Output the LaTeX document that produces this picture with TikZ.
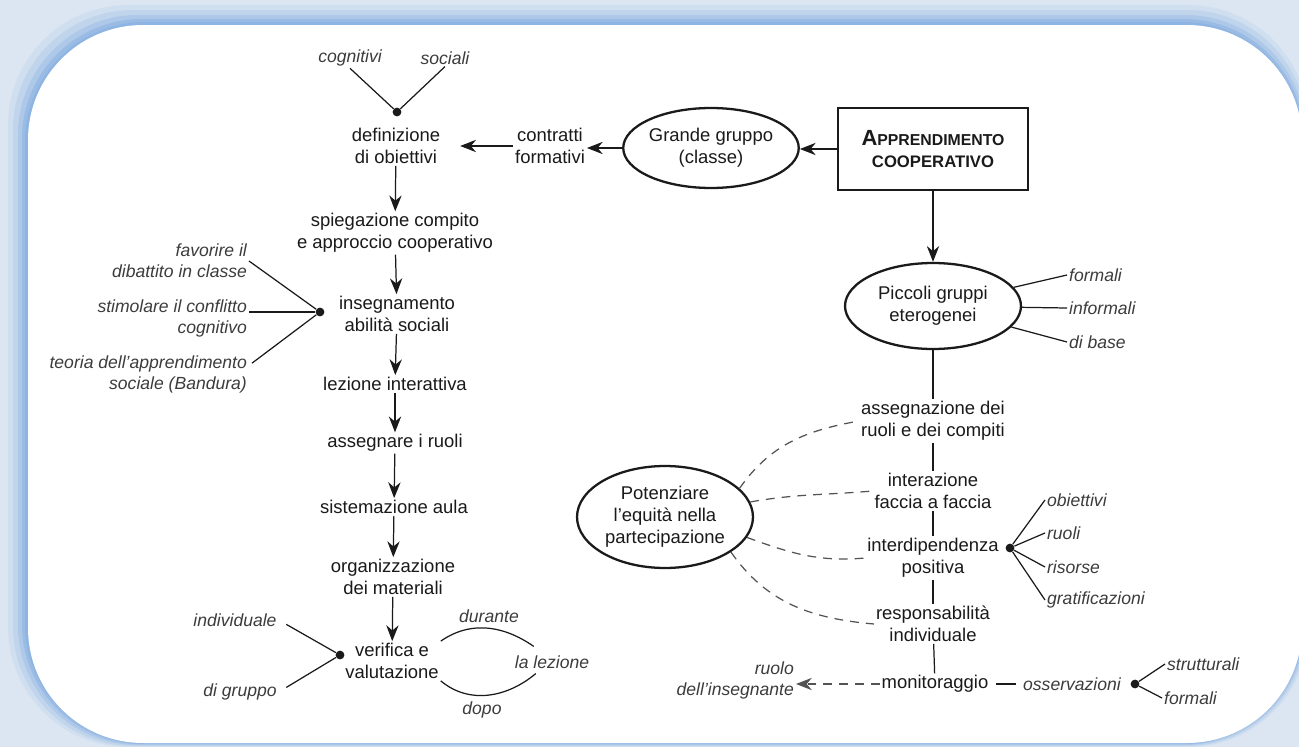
\documentclass[tikz,border=0pt]{standalone}
\usepackage{fontspec}
\setmainfont{Liberation Sans}
\usetikzlibrary{arrows.meta,shapes.geometric,calc}
\definecolor{pagebg}{HTML}{DCE6F2}
\definecolor{glow}{HTML}{8DB4E2}
\definecolor{ink}{HTML}{1A1A1A}

\begin{document}
\begin{tikzpicture}[x=0.02cm,y=-0.02cm,
            every node/.style={text=ink,inner sep=1pt},
            txt/.style={align=center,font=\fontsize{10.5}{12.5}\selectfont},
            lbl/.style={font=\fontsize{10}{12}\selectfont\itshape,text=ink!85},
            oval/.style={ellipse,draw=ink,line width=1.3pt,align=center,inner sep=0pt,font=\fontsize{10.5}{12.5}\selectfont},
            flow/.style={-{Stealth[length=9pt,width=7pt]},ink,line width=0.7pt},
            link/.style={ink,line width=0.7pt},
            hint/.style={ink!75,line width=0.7pt,dash pattern=on 5pt off 4pt},
            dot/.style={circle,fill=ink,inner sep=0pt,minimum size=5pt}]
            \useasboundingbox (0,0) rectangle (1299,747);
            % sfondo
            \fill[pagebg] (0,0) rectangle (1299,747);
            \foreach \w/\p in {20/15,15/35,10/60,6/85,3/100}
              \fill[glow!\p!pagebg,rounded corners=2.4cm] (28-\w,25-\w) rectangle (1302+\w/3,743+\w/5);
            \fill[white,rounded corners=2.3cm] (28,25) rectangle (1302,743);

            % colonna sinistra
            \node[lbl] (cogn) at (350,58) {cognitivi};
            \node[lbl] (soc) at (445,58) {sociali};
            \node[dot] (d1) at (397,112) {};
            \node[txt] (defin) at (396,146) {definizione\\di obiettivi};
            \node[txt] (spieg) at (395,233) {spiegazione compito\\e approccio cooperativo};
            \node[txt] (insegn) at (397,314) {insegnamento\\abilità sociali};
            \node[dot] (d2) at (320,312) {};
            \node[txt] (lezio) at (395,384) {lezione interattiva};
            \node[txt] (asseg) at (395,443) {assegnare i ruoli};
            \node[txt] (aula) at (394,507) {sistemazione aula};
            \node[txt] (mater) at (393,577) {organizzazione\\dei materiali};
            \node[txt] (verif) at (392,661) {verifica e\\valutazione};
            \node[dot] (d3) at (340,655) {};
            \begin{scope}[every node/.append style={lbl,align=right,anchor=east}]
            \node (fav) at (249,261) {favorire il\\dibattito in classe};
            \node (stim) at (249,318) {stimolare il conflitto\\cognitivo};
            \node (teor) at (249,374) {teoria dell'apprendimento\\sociale (Bandura)};
            \end{scope}
            \node[lbl] (ind) at (235,620) {individuale};
            \node[lbl] (grp) at (240,692) {di gruppo};
            \node[lbl] (dur) at (489,616) {durante};
            \node[lbl] (lez) at (552,662) {la lezione};
            \node[lbl] (dopo) at (482,710) {dopo};

            \draw[link] (cogn.south) -- (d1);
            \draw[link] (soc.south) -- (d1);
            \draw[flow] (defin) -- (spieg);
            \draw[flow] (spieg) -- (insegn);
            \draw[flow] (insegn) -- (lezio);
            \draw[flow] (lezio) -- (asseg);
            \draw[flow] (asseg) -- (aula);
            \draw[flow] (aula) -- (mater);
            \draw[flow] (mater) -- (verif);
            \draw[link] (fav.east) -- (d2);
            \draw[link] (stim.east |- d2) -- (d2);
            \draw[link] ($(teor.north east)+(3,10)$) -- (d2);
            \draw[link,shorten <=5pt] (ind.east) -- (d3);
            \draw[link,shorten <=5pt] (grp.east) -- (d3);
            \draw[link] (verif.north east) to[out=35,in=145] ($(lez.north west)+(21,-7)$);
            \draw[link] (verif.south east) to[out=-40,in=-140] ($(lez.south west)+(23,3)$);

            % parte destra
            \node[txt] (contr) at (550,146) {contratti\\formativi};
            \node[oval,minimum width=3.08cm,minimum height=1.6cm] (grande) at (711,148) {Grande gruppo\\(classe)};
            \node[draw=ink,line width=1.6pt,minimum width=3.8cm,minimum height=1.64cm,align=center,font=\bfseries] (coop) at (933,149)
              {\fontsize{12.5}{14}\selectfont A\fontsize{9}{14}\selectfont PPRENDIMENTO\\\fontsize{9.5}{14}\selectfont COOPERATIVO};
            \node[oval,minimum width=3.52cm,minimum height=1.72cm] (picc) at (933,306) {Piccoli gruppi\\eterogenei};
            \begin{scope}[every node/.append style={lbl,anchor=west}]
            \node (form) at (1067,275) {formali};
            \node (inform) at (1067,308) {informali};
            \node (base) at (1067,342) {di base};
            \node (obiet) at (1045,500) {obiettivi};
            \node (ruo) at (1045,533) {ruoli};
            \node (ris) at (1045,567) {risorse};
            \node (grat) at (1045,600) {gratificazioni};
            \node (strut) at (1165,664) {strutturali};
            \node (formal) at (1162,698) {formali};
            \end{scope}
            \node[txt] (compiti) at (933,421) {assegnazione dei\\ruoli e dei compiti};
            \node[txt] (inter) at (933,491) {interazione\\faccia a faccia};
            \node[txt] (interd) at (933,558) {interdipendenza\\positiva};
            \node[txt] (resp) at (933,624) {responsabilità\\individuale};
            \node[txt] (monit) at (935,684) {monitoraggio};
            \node[dot] (d4) at (1010,548) {};
            \node[lbl] (osserv) at (1072,684) {osservazioni};
            \node[dot] (d5) at (1135,684) {};
            \node[lbl,align=right,anchor=east] (ruolo) at (796,680) {ruolo\\dell'insegnante};
            \node[oval,minimum width=3.52cm,minimum height=2.04cm] (pot) at (665,517) {Potenziare\\l'equità nella\\partecipazione};

            \draw[flow] (contr.west) -- (contr.west -| defin.east) [shorten >=0.36cm];
            \draw[flow] (grande.west) -- (grande.west -| contr.east);
            \draw[flow] (coop.west) -- (coop.west -| grande.east);
            \draw[flow] (coop) -- (picc);
            \draw[link] (picc) -- (form.west);
            \draw[link] (picc) -- (inform.west);
            \draw[link] (picc) -- (base.west);
            \draw[link] (picc) -- (compiti);
            \draw[link] (compiti) -- (inter);
            \draw[link] (inter) -- (interd);
            \draw[link] (interd) -- (resp);
            \draw[link] (resp) -- (monit);
            \foreach \t in {obiet,ruo,ris,grat}
              \draw[link] (d4) -- (\t.west);
            \draw[link,shorten <=3pt,shorten >=3pt] (monit) -- (osserv);
            \draw[link] (d5) -- (strut.west);
            \draw[link] (d5) -- (formal.west);
            \draw[hint,-{Stealth[length=9pt,width=7pt]}] (monit.west) -- (monit.west -| ruolo.east);
            \draw[hint] (pot.21) to[out=55,in=190] (compiti.west);
            \draw[hint] (pot.10) to[out=10,in=185] (inter.west);
            \draw[hint] (pot.-14) to[out=-20,in=185] (interd.west);
            \draw[hint] (pot.-28) to[out=-55,in=175] (resp.west);
\end{tikzpicture}
\end{document}
